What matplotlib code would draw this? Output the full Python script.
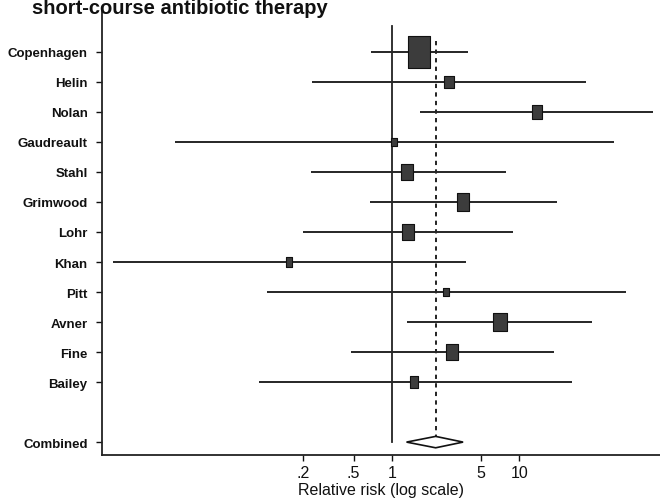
import numpy as np
import matplotlib
matplotlib.use("Agg")
import matplotlib.pyplot as plt
from matplotlib.path import Path
from matplotlib.ticker import FixedLocator, NullLocator

# ---- data ----
studies = ["Copenhagen", "Helin", "Nolan", "Gaudreault", "Stahl", "Grimwood",
           "Lohr", "Khan", "Pitt", "Avner", "Fine", "Bailey"]
rr = [1.63, 2.81, 13.6, 1.03, 1.31, 3.59, 1.34, 0.157, 2.65, 7.0, 2.96, 1.50]
ci_low = [0.68, 0.237, 1.66, 0.020, 0.23, 0.67, 0.20, 0.0065, 0.104, 1.31, 0.48, 0.091]
ci_high = [3.97, 33.5, 112, 55, 7.8, 19.6, 8.9, 3.83, 69, 36.9, 18.7, 25.7]
weights = [30.7, 5.3, 6.7, 1.6, 8.7, 9.8, 8.7, 2.8, 2.2, 11.0, 8.7, 4.1]
combined_label = "Combined"
combined_rr = 2.20
combined_low = 1.30
combined_high = 3.61
xticks = [0.2, 0.5, 1, 5, 10]
xtick_labels = [".2", ".5", "1", "5", "10"]
title = "short-course antibiotic therapy"
xlabel = "Relative risk (log scale)"

NARROW = ["Liberation Sans Narrow", "Liberation Sans", "DejaVu Sans"]
plt.rcParams["font.family"] = NARROW

W, H = 660, 502
fig = plt.figure(figsize=(W / 100, H / 100), dpi=100)
ax = fig.add_axes([102 / W, (H - 456) / H, (W - 102) / W, (456 - 10) / H])

n = len(studies)
ypos = np.arange(n)
y_comb = n + 1

# box marker (slightly taller than wide, as in the scan)
box = Path([(-0.36, -0.5), (0.36, -0.5), (0.36, 0.5), (-0.36, 0.5), (-0.36, -0.5)],
           [Path.MOVETO, Path.LINETO, Path.LINETO, Path.LINETO, Path.CLOSEPOLY])

px2pt = 72 / 100
for i in range(n):
    ax.plot([ci_low[i], ci_high[i]], [ypos[i], ypos[i]], color="#262626", lw=1.4,
            solid_capstyle="butt", zorder=2)
    h = 5.6 * np.sqrt(weights[i]) * px2pt
    ax.plot([rr[i]], [ypos[i]], marker=box, markersize=h, markerfacecolor="#3c3c3c",
            markeredgecolor="#111111", markeredgewidth=0.8, linestyle="none", zorder=3)

# reference line at 1 and combined estimate line
ax.plot([1, 1], [-0.88, y_comb], color="#222222", lw=1.3, zorder=1)
ax.plot([combined_rr, combined_rr], [-0.37, y_comb - 0.2], color="#222222", lw=1.4,
        linestyle=(0, (2.2, 2.2)), zorder=1)

# diamond
dh = 0.19
ax.fill([combined_low, combined_rr, combined_high, combined_rr, combined_low],
        [y_comb, y_comb - dh, y_comb, y_comb + dh, y_comb],
        facecolor="white", edgecolor="#111111", lw=1.2, zorder=3)

ax.set_xscale("log")
ax.set_xlim(10 ** ((102 - 392) / 127.5), 10 ** ((660 - 392) / 127.5))
ax.set_ylim(y_comb + 0.43, -1.43)

ax.xaxis.set_major_locator(FixedLocator(xticks))
ax.xaxis.set_minor_locator(NullLocator())
ax.set_xticklabels(xtick_labels)
ax.set_yticks(list(ypos) + [y_comb])
ax.set_yticklabels(studies + [combined_label])

for s in ["top", "right"]:
    ax.spines[s].set_visible(False)
for s in ["left", "bottom"]:
    ax.spines[s].set_linewidth(1.3)
    ax.spines[s].set_color("#222222")

ax.tick_params(axis="y", direction="out", length=4.3, width=1.0, pad=6,
               labelsize=9.5, colors="#111111")
ax.tick_params(axis="x", direction="out", length=4.0, width=1.0, pad=3,
               labelsize=11.5, colors="#111111")
for lab in ax.get_yticklabels():
    lab.set_fontweight("bold")

ax.set_xlabel(xlabel, fontsize=11.5, labelpad=2, color="#111111")

fig.text(32 / W, 1 - 14 / H, title, fontsize=14.5, fontweight="bold",
         family=["Liberation Sans", "DejaVu Sans"], va="baseline", ha="left",
         color="#111111")

fig.savefig("out.png", dpi=100, facecolor="white")
